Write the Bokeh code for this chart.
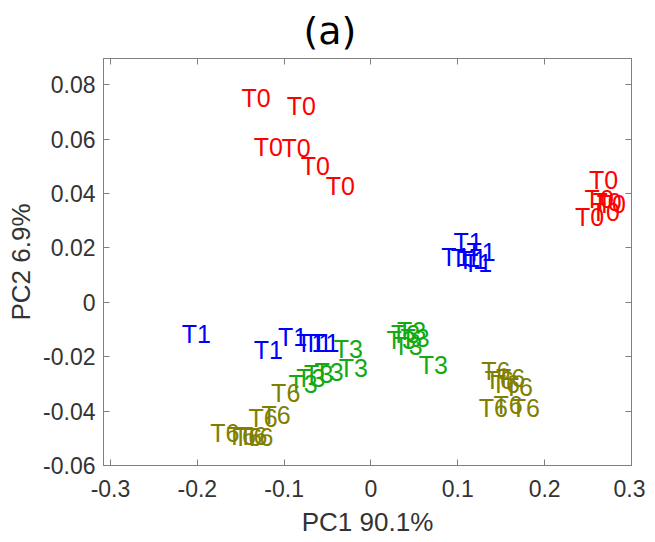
from bokeh.plotting import figure
from bokeh.models import ColumnDataSource, LinearAxis, FixedTicker, CustomJSTickFormatter, Range1d, Title
from bokeh.core.properties import value
from bokeh.embed import file_html
from bokeh.resources import INLINE

# ---- data (PC1, PC2 scores) ----
t0_x = [-0.149, -0.097, -0.135, -0.103, -0.081, -0.052, 0.251, 0.246, 0.255, 0.260, 0.253, 0.235]
t0_y = [0.075, 0.072, 0.057, 0.0566, 0.050, 0.0426, 0.045, 0.038, 0.037, 0.036, 0.033, 0.0315]

t1_x = [-0.218, -0.135, -0.107, -0.086, -0.078, -0.070, 0.095, 0.081, 0.092, 0.100, 0.106, 0.110]
t1_y = [-0.0118, -0.0174, -0.0126, -0.0148, -0.015, -0.0151, 0.022, 0.0165, 0.0161, 0.0157, 0.0146, 0.0183]

t3_x = [0.018, 0.023, 0.030, 0.026, 0.034, 0.055, -0.043, -0.037, -0.095, -0.086, -0.077, -0.065]
t3_y = [-0.014, -0.0115, -0.0104, -0.0159, -0.0133, -0.0229, -0.017, -0.0242, -0.0299, -0.028, -0.0265, -0.0258]

t6_x = [0.127, 0.131, 0.138, 0.144, 0.153, 0.124, 0.141, 0.161, -0.115, -0.141, -0.126, -0.185, -0.166, -0.159, -0.153, -0.146]
t6_y = [-0.0254, -0.0287, -0.0299, -0.028, -0.031, -0.0387, -0.0376, -0.0387, -0.0335, -0.0427, -0.0413, -0.0482, -0.049, -0.0497, -0.0493, -0.0497]

groups = ["T0", "T1", "T3", "T6"]
colors = ["#ff0000", "#0000ff", "#14a814", "#808000"]
xs = [t0_x, t1_x, t3_x, t6_x]
ys = [t0_y, t1_y, t3_y, t6_y]

x_ticks = [-0.3, -0.2, -0.1, 0, 0.1, 0.2, 0.3]
y_ticks = [-0.06, -0.04, -0.02, 0, 0.02, 0.04, 0.06, 0.08]
x_label = "PC1 90.1%"
y_label = "PC2 6.9%"
title_text = "(a)"

FONT = "Liberation Sans"
AX = "#7f7f7f"
TXT = "#333333"

p = figure(width=645, height=526, output_backend="svg", toolbar_location=None,
           x_range=Range1d(-0.308, 0.3), y_range=Range1d(-0.06, 0.0896),
           frame_width=528, frame_height=407,
           min_border_left=103, min_border_right=14, min_border_top=57, min_border_bottom=62)
p.grid.visible = False
p.outline_line_color = AX
p.background_fill_color = "white"
p.border_fill_color = "white"

fmt = CustomJSTickFormatter(code="""
if (Math.abs(tick) < 1e-9) return '0';
return String(Math.round(tick*100)/100);
""")

for ax in p.xaxis:
    ax.ticker = FixedTicker(ticks=x_ticks)
for ax in p.yaxis:
    ax.ticker = FixedTicker(ticks=y_ticks)

for ax in list(p.xaxis) + list(p.yaxis):
    ax.formatter = fmt
    ax.major_tick_in = 6
    ax.major_tick_out = 0
    ax.minor_tick_in = 0
    ax.minor_tick_out = 0
    ax.axis_line_color = AX
    ax.major_tick_line_color = AX
    ax.major_label_text_font = FONT
    ax.major_label_text_font_size = "23px"
    ax.major_label_text_color = TXT
    ax.axis_label_text_font = FONT
    ax.axis_label_text_font_size = "26px"
    ax.axis_label_text_font_style = "normal"
    ax.axis_label_text_color = TXT

p.xaxis.axis_label = x_label
p.yaxis.axis_label = y_label
p.xaxis.major_label_standoff = 14
p.yaxis.major_label_standoff = 8
p.xaxis.axis_label_standoff = 7
p.yaxis.axis_label_standoff = 4

blank = CustomJSTickFormatter(code="return '';")
top = LinearAxis(ticker=FixedTicker(ticks=x_ticks), formatter=blank,
                 major_tick_in=6, major_tick_out=0, minor_tick_in=0, minor_tick_out=0,
                 axis_line_color=AX, major_tick_line_color=AX, major_label_standoff=0)
right = LinearAxis(ticker=FixedTicker(ticks=y_ticks), formatter=blank,
                   major_tick_in=6, major_tick_out=0, minor_tick_in=0, minor_tick_out=0,
                   axis_line_color=AX, major_tick_line_color=AX, major_label_standoff=0)
p.add_layout(top, "above")
p.add_layout(right, "right")

for g, c, gx, gy in zip(groups, colors, xs, ys):
    src = ColumnDataSource(dict(x=gx, y=gy, label=[g] * len(gx)))
    p.text(x="x", y="y", text="label", source=src, text_color=c,
           text_font=value(FONT), text_font_size="25px",
           text_align="left", text_baseline="middle")

p.title = Title(text=title_text, align="left", offset=200, standoff=12,
                text_font="DejaVu Sans", text_font_size="38px", text_font_style="normal",
                text_color="#000000")

open("out.html", "w").write(file_html(p, INLINE))
